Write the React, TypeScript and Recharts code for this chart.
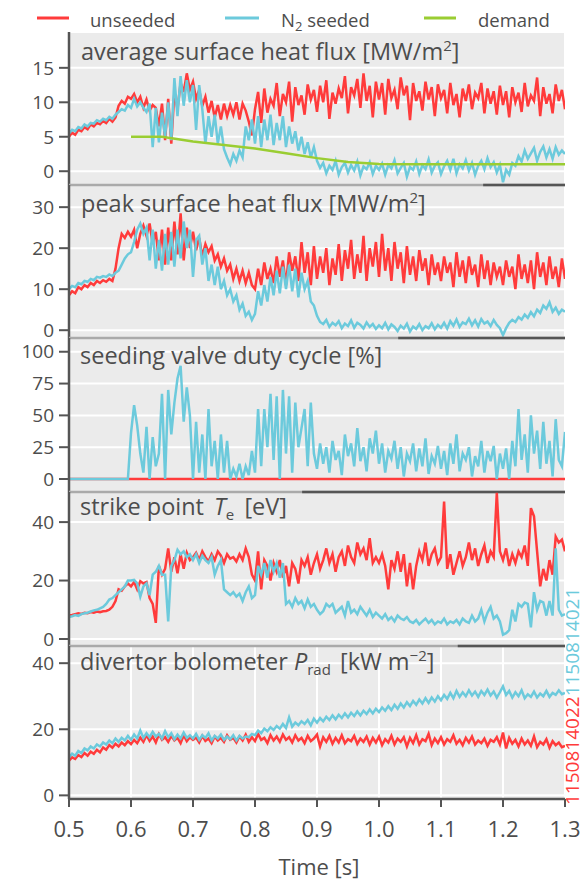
import { CartesianGrid, Line, LineChart, ReferenceLine, XAxis, YAxis } from 'recharts';

// samples every 5 ms from 0.5 s to 1.3 s (161 points per trace)
const avgUnseeded = [
  5.0, 5.6, 5.3, 6.0, 5.8, 6.4, 6.1, 6.8, 6.5, 7.0, 6.8, 7.3, 7.0, 7.6, 7.2, 7.8, 9.5, 10.2, 9.8, 10.8,
  10.5, 11.2, 10, 10.8, 9.2, 10.4, 8.8, 9.6, 9.2, 6.5, 9.8, 4.5, 10.5, 4.0, 11.5, 9, 12.8, 11.5, 14.2, 11.8,
  13, 10.5, 11.8, 9.5, 10.8, 8.5, 10.2, 7.8, 9.6, 7.5, 9.8, 8, 9.6, 8.2, 10, 7.5, 9.8, 8.8, 7.2, 5.2,
  9, 11.5, 7, 12, 8.5, 10.5, 9.5, 12.8, 8, 11.2, 10, 13, 7.2, 12.2, 9.6, 11, 8.2, 12.6, 10.4, 11.8,
  8.6, 12.4, 10, 13.2, 7.6, 11.4, 9.8, 12, 10.6, 13.8, 8.4, 12.2, 11, 13.4, 9.2, 14.2, 10.2, 12.4, 7.8, 13,
  10.4, 12.8, 8.2, 13.4, 10.6, 11.8, 9, 13.6, 11, 12.4, 7.4, 12.8, 10.2, 11.6, 8.8, 13, 10.4, 12.2, 8, 12.6,
  10.6, 11.8, 8.4, 12.8, 9.6, 11.2, 7.8, 12, 10.2, 12.6, 9, 11.4, 10.6, 12.8, 8.4, 12, 9.8, 11.6, 8.2, 12.4,
  9.6, 11.6, 7.8, 12.2, 10, 11.4, 8.6, 12.8, 9.4, 11, 10.2, 13.6, 8, 12.2, 9.8, 11.2, 8.4, 12.6, 10.2, 11.8,
  9,
];
const avgSeeded = [
  5.5, 6.0, 5.8, 6.4, 6.2, 6.8, 6.5, 7.0, 6.9, 7.4, 7.2, 7.6, 7.4, 7.9, 7.6, 8.2, 8.6, 9.0, 8.8, 9.6,
  9.2, 10.5, 9.4, 10, 9.2, 8.6, 9.8, 3.5, 9.2, 4.2, 8.5, 5, 10, 4.5, 13.5, 8, 13.8, 9.5, 13.2, 10,
  12.5, 6, 12.5, 9, 4, 8, 5, 8.2, 4, 6.5, 3.2, 2, 1, 2.5, 1.5, 3, 2, 6.5, 4.5, 7.5,
  4, 8, 3.5, 7.5, 4.5, 8.2, 3.8, 7, 4.5, 8, 3.5, 6.5, 4, 5.8, 3, 5, 2.5, 4.2, 2, 3.5,
  1.5, 0.5, 1.2, -0.3, 0.8, 0.2, 1.5, -0.5, 0.6, 1.2, -0.2, 0.9, 0.1, 1.4, -0.6, 0.7, 0.3, 1.3, -0.4, 0.8,
  0.2, 1.1, -0.5, 0.9, 0.4, 1.6, -0.3, 0.5, 1.2, -0.8, 0.6, 0.2, 1.4, -0.4, 0.9, 0.3, 1.7, -0.2, 0.8, 1.3,
  -0.4, 0.7, 1.5, 0.2, 1.8, -0.3, 1, 0.4, 1.6, 0.1, 1.2, -0.5, 0.8, 1.5, 0.3, 1.9, 0.6, 1.3, -0.2, 0.9,
  -1.6, 0.2, -0.5, 1.2, 0.8, 2.2, 1.4, 3, 1.8, 2.6, 3.4, 1.5, 2.8, 3.6, 2, 3.2, 1.8, 3.5, 2.4, 3,
  2.5,
];
const demandTime = [0.6, 0.65, 0.7, 0.75, 0.8, 0.85, 0.9, 0.95, 1.0, 1.05, 1.1, 1.2, 1.3];
const demandValues = [5, 5, 4.3, 3.8, 3.3, 2.6, 1.9, 1.35, 1.05, 1, 1, 1, 1];

const peakUnseeded = [
  8.5, 9.5, 9, 10.5, 10, 11, 10.5, 11.5, 11, 12, 11.5, 12.2, 11.8, 12.5, 12, 15, 20, 23.5, 22.5, 24,
  22.8, 24.5, 20, 23.5, 25.5, 23, 26, 21, 24, 17, 24.5, 16, 25, 17, 26.5, 18.5, 28.5, 17, 25, 20,
  24, 19.5, 22.5, 18, 21, 19, 20.5, 17, 18.5, 15.5, 17.5, 14.5, 16, 12.5, 15, 12, 14.5, 11.5, 14, 11,
  10, 15, 11, 16.5, 12.5, 15, 11.5, 18, 13, 17, 11, 19, 14.5, 18, 12, 21.5, 14, 19, 11, 20.5,
  12.5, 18, 14, 20, 11, 17.5, 13.5, 21, 12, 19.5, 15, 22, 12.5, 18.5, 14, 23, 12, 20, 15.5, 21.5,
  13, 23.5, 14.5, 20, 12, 21.5, 15, 19, 11.5, 20.5, 13.5, 18, 12, 19.5, 14.5, 17.5, 11, 18.5, 13.5, 16.5,
  12, 18, 14, 16.5, 10.5, 19, 13, 17, 11.5, 18, 13.5, 16, 10.5, 18.5, 12.5, 17, 11, 16.5, 13, 15.5,
  11, 17, 13, 15.5, 10, 18.5, 12.5, 16, 11.5, 17, 10, 19, 13, 16.5, 11, 18, 12.5, 15.5, 10.5, 17.5,
  12.5,
];
const peakSeeded = [
  10, 10.8, 10.5, 11.5, 11.2, 12, 11.8, 12.5, 12.2, 13, 12.8, 13.2, 13, 13.6, 13.2, 14, 14.5, 16, 17.5, 18.5,
  19, 21.5, 24.5, 26, 23.5, 25, 17, 24.5, 15, 22, 14.5, 23.5, 16, 24, 15.5, 24.5, 17.5, 26.5, 20, 24.5,
  13, 22, 23, 16, 20, 12, 16, 11, 15.5, 10, 12, 8.5, 10, 7, 8.5, 5, 6.5, 3.5, 4.5, 2.5,
  4, 9.5, 6, 11, 7, 13, 8.5, 14.5, 9, 15.5, 10, 16, 9.5, 15, 8, 14, 10, 12, 7, 6,
  3.5, 2, 1.5, 2.5, 0.8, 1.8, 1.2, 2.2, 0.5, 1.6, 1, 2.4, 0.6, 1.8, 1.3, 0.4, 1.9, 0.8, 1.5, 0.3,
  1.2, 0.5, 1.8, 0.2, 1.4, 0.8, -0.2, 1.1, 0.4, 1.6, -0.3, 0.9, 0.3, 1.5, 0, 1, 0.5, 1.7, 0.2, 1.3,
  0.6, 1.8, 0.4, 2.2, 1.1, 2.6, 0.8, 1.9, 1.5, 2.8, 1.2, 2.4, 0.9, 2.7, 1.6, 2.1, 1, 2.5, 1.3, 0.5,
  -1.2, 0.5, 1.8, 2.5, 2, 3.2, 2.6, 3.8, 3, 4.4, 3.4, 5, 4.2, 6, 5.2, 6.8, 4.5, 5.5, 4, 5,
  4.5,
];

const dutyUnseededTime = [0.5, 1.3];
const dutyUnseeded = [0, 0];
const dutySeeded = [
  0, 0, 0, 0, 0, 0, 0, 0, 0, 0, 0, 0, 0, 0, 0, 0, 0, 0, 0, 0,
  36, 58, 42, 20, 5, 41, 0, 33, 10, 20, 67, 0, 70, 35, 60, 79, 89, 45, 72, 50,
  0, 45, 5, 35, 0, 55, 10, 30, 0, 35, 5, 30, 0, 8, 2, 12, 0, 10, 3, 22,
  5, 55, 10, 55, 25, 67, 15, 65, 0, 70, 20, 65, 5, 60, 25, 40, 55, 10, 60, 20,
  8, 28, 12, 25, 5, 30, 15, 22, 3, 35, 18, 28, 10, 40, 14, 25, 6, 32, 20, 38,
  12, 28, 5, 22, 16, 30, 8, 25, 2, 20, 14, 28, 6, 24, 10, 32, 4, 18, 12, 26,
  8, 22, 3, 28, 12, 35, 6, 20, 15, 25, 2, 18, 10, 30, 5, 22, 14, 26, 0, 20,
  8, 24, 0, 30, 10, 55, 15, 35, 5, 50, 20, 38, 8, 45, 12, 30, 2, 47, 15, 10,
  37,
];

const teUnseeded = [
  8, 8.2, 8.5, 8.8, 8.6, 9, 8.8, 9.2, 9, 9.4, 9.2, 9.5, 9.6, 10, 11, 13, 17, 16.5, 18, 19,
  18, 19.5, 17, 19.8, 19, 19.5, 14, 12, 5.5, 25, 22, 24, 31, 23, 28, 22.5, 29, 24, 29.5, 27,
  28, 29.5, 27, 30, 28, 26.5, 29, 27, 30, 28.5, 26, 29, 27.5, 28, 26.5, 29, 27, 31, 28, 22,
  20, 30, 17, 27, 25, 20, 26, 23, 27, 21, 25, 18, 26, 24, 19, 27, 25, 28, 22, 26,
  29, 24, 27, 31, 26, 29, 23, 28, 30, 25, 32, 28, 26, 33, 29, 31, 27, 34.5, 26, 28,
  26, 29, 25, 17, 27, 24, 30, 23, 29, 18, 26, 17, 25, 30, 27, 33, 25, 29, 31, 26,
  28, 47, 24, 29, 22, 26, 30, 25, 28, 33, 27, 31, 25, 29, 32, 26, 30, 28, 50, 30,
  27, 31, 25, 29, 26, 30, 28, 32, 25, 44.8, 42, 30, 18, 24, 20, 27, 22, 35, 33, 34,
  30,
];
const teSeeded = [
  7.5, 7.8, 8.2, 7.9, 8.5, 8.8, 9, 9.4, 9.8, 10, 10.5, 11, 12, 13.5, 14, 15, 16, 17, 18, 20,
  20, 20.2, 19, 14.5, 18, 19, 15, 22, 23, 25, 22, 22, 6, 25, 27, 30.5, 29, 30, 28, 29,
  27, 29, 26, 28.5, 27, 26, 28, 22, 25, 27, 17, 16, 15, 16, 14.5, 15.5, 13, 16, 18, 14,
  15, 25, 22, 26, 21, 27, 23, 26, 21, 26, 12, 13, 11, 14, 12, 13, 10.5, 13.5, 11, 12,
  10, 8.5, 9.5, 12, 11, 12, 9, 10, 11, 8, 13, 9, 10, 8.5, 11, 9.5, 8, 10, 7.5, 9,
  8, 7, 8.5, 6.5, 7.5, 6, 8, 7, 6.5, 7.5, 6, 5.5, 6.5, 5, 6, 7, 5.5, 6.5, 5, 6,
  5.5, 7, 5, 6, 5.5, 6.5, 5, 7, 6, 5.5, 8, 6, 7, 10, 6, 9, 11, 7, 8, 6,
  1.5, 2, 3, 10, 6, 12, 11, 12.5, 12, 4, 16, 10, 13, 12.5, 8, 13, 8, 31, 10, 8,
  8.5,
];

const bolUnseeded = [
  10.5, 11.5, 11, 12.2, 11.6, 12.8, 12, 13.2, 12.6, 13.8, 13, 14.5, 13.8, 15.2, 14.4, 15.6, 14.8, 16, 15.2, 16.4,
  15.5, 16.8, 15.8, 17.5, 16.2, 18.2, 16.5, 17.8, 16, 18.5, 16.8, 17.6, 16.2, 18, 16.6, 17.4, 15.8, 18.2, 16.4, 17.6,
  16.8, 17.5, 16, 18, 16.5, 17.2, 15.8, 17.8, 16.6, 17.4, 16.2, 18.2, 16.8, 17.4, 16, 17.8, 16.6, 18.4, 16.2, 17.6,
  16.4, 18.6, 16.8, 17.4, 15.8, 18.2, 16.6, 17.8, 16.2, 18.4, 16.8, 17.6, 16, 18.2, 16.6, 17.4, 15.8, 18, 16.4, 17.2,
  18.4, 14.8, 17.6, 16.2, 18, 15.6, 17.4, 16, 18.2, 15.8, 17, 16.4, 18, 15.6, 17.2, 16.2, 17.8, 15.4, 17.4, 16,
  17.8, 15.2, 17, 16, 18, 15.4, 17.2, 16.2, 17.6, 14.8, 17.4, 15.8, 18.2, 15.4, 17, 16.4, 18.6, 15.2, 17.2, 15.8,
  17.6, 15.4, 17, 16.2, 18.2, 15.6, 16.8, 15.2, 17.4, 16, 17.8, 15.4, 16.6, 15.8, 17.2, 15, 16.8, 16.2, 17.6, 15.4,
  19, 14.2, 17.4, 15.6, 16.8, 14.8, 17.2, 15.4, 16.6, 15, 17.8, 14.6, 16.2, 15.4, 17, 14.4, 16.4, 15.2, 16, 14.6,
  15,
];
const bolSeeded = [
  11.5, 12.6, 12, 13.4, 12.8, 14.2, 13.6, 14.8, 14.2, 15.4, 14.8, 16, 15.4, 16.6, 15.8, 17.2, 16.2, 17.4, 16.6, 18,
  16.8, 18.4, 17.2, 19.6, 17.4, 18.8, 17.6, 19.2, 17.8, 18.6, 17.2, 19.4, 17.6, 18.8, 17, 18.4, 17.2, 19, 17.4, 18.2,
  17.2, 18.6, 16.8, 18.2, 17.4, 18.8, 16.6, 18, 17.2, 18.4, 16.8, 17.8, 17, 18.2, 16.6, 18, 17.2, 17.8, 17.6, 18.6,
  18.2, 19.6, 18.8, 20.2, 19.4, 20.6, 19.8, 21, 20.2, 21.6, 20.4, 23.6, 20.8, 22, 21.2, 22.4, 21.6, 22.8, 21.2, 23.2,
  22, 23.4, 22.4, 23.8, 22.8, 24.2, 23, 24.4, 23.4, 24.8, 23.6, 25, 24, 25.4, 24.2, 25.6, 24.6, 26, 24.8, 26.2,
  25.2, 26.6, 25.6, 27, 25.8, 27.4, 26.2, 27.8, 26.6, 28.2, 27, 28.6, 27.4, 29, 27.8, 29.4, 28, 29.6, 28.4, 30,
  28.8, 30.4, 29.2, 31, 29.4, 31.6, 29.8, 31.2, 30, 31.8, 30.2, 31.4, 29.8, 31.6, 30.4, 32, 30.2, 31.4, 29.6, 31.2,
  33, 30.4, 31.6, 29.6, 31.2, 30, 31.8, 29.4, 30.6, 29.8, 31.4, 29.6, 30.8, 30, 31.6, 29.8, 31, 30.4, 31.8, 30.6,
  31,
];

const xTicks = [0.5, 0.6, 0.7, 0.8, 0.9, 1.0, 1.1, 1.2, 1.3];

const W = 585;
const RED = '#ff3b3b';
const CYAN = '#6ccadc';
const GREEN = '#9acd32';
const BG = '#ebebeb';
const AXIS = '#555555';
const TEXT = '#4d4d4d';
const LIGHT_SPINE = '#aaaaaa';
const FONT = "'Open Sans', sans-serif";

const time = avgUnseeded.map((_, i) => Math.round((0.5 + i * 0.005) * 1000) / 1000);

function rows(a: number[], b: number[]) {
  return time.map((t, i) => ({ t, unseeded: a[i], seeded: b[i] }));
}
function pairs(ts: number[], vs: number[]) {
  return ts.map((t, i) => ({ t, v: vs[i] }));
}

type PanelProps = {
  top: number;
  height: number;
  domain: [number, number];
  ticks: number[];
  data: Array<Record<string, number>>;
  topSplit?: number; // where the top spine turns dark
  last?: boolean;
  extra?: React.ReactNode;
  unseededData?: Array<Record<string, number>>;
  unseededKey?: string;
};

const X_AXIS_H = 85;

function Panel({ top, height, domain, ticks, data, topSplit, last, extra, unseededData, unseededKey }: PanelProps) {
  const padTop = topSplit != null ? 2 : 0;
  const padBottom = last ? 0 : 6;
  return (
    <div style={{ position: 'absolute', left: 0, top: top - padTop, width: W }}>
      <LineChart
        width={W}
        height={height + padTop + padBottom + (last ? X_AXIS_H : 0)}
        data={data}
        margin={{ top: padTop, right: 20, bottom: padBottom, left: 0 }}
      >
        <CartesianGrid fill={BG} fillOpacity={1} stroke="#ffffff" strokeWidth={2} />
        {last ? (
          <XAxis
            type="number"
            dataKey="t"
            domain={[0.5, 1.3]}
            ticks={xTicks}
            interval={0}
            allowDataOverflow
            height={X_AXIS_H}
            tickSize={8}
            tickMargin={14}
            tickFormatter={(v: number) => v.toFixed(1)}
            tick={{ fill: TEXT, fontSize: 22, fontFamily: FONT }}
            tickLine={{ stroke: AXIS, strokeWidth: 2 }}
            axisLine={{ stroke: AXIS, strokeWidth: 2.5 }}
          />
        ) : (
          <XAxis
            type="number"
            dataKey="t"
            domain={[0.5, 1.3]}
            ticks={xTicks}
            allowDataOverflow
            height={0}
            tick={false}
            tickLine={false}
            axisLine={false}
          />
        )}
        <YAxis
          type="number"
          domain={domain}
          ticks={ticks}
          interval={0}
          allowDataOverflow
          width={69}
          tickSize={10}
          tickMargin={5}
          tick={{ fill: TEXT, fontSize: 19, fontFamily: FONT }}
          tickLine={{ stroke: AXIS, strokeWidth: 2 }}
          axisLine={{ stroke: AXIS, strokeWidth: 2.5 }}
        />
        {topSplit != null && <ReferenceLine y={domain[1]} stroke={LIGHT_SPINE} strokeWidth={2.5} />}
        {topSplit != null && (
          <ReferenceLine
            segment={[
              { x: topSplit, y: domain[1] },
              { x: 1.3, y: domain[1] },
            ]}
            stroke={AXIS}
            strokeWidth={2.5}
          />
        )}
        <Line
          data={unseededData}
          dataKey={unseededKey ?? 'unseeded'}
          stroke={RED}
          strokeWidth={2.5}
          dot={false}
          isAnimationActive={false}
        />
        <Line dataKey="seeded" stroke={CYAN} strokeWidth={2.5} dot={false} isAnimationActive={false} />
        {extra}
      </LineChart>
    </div>
  );
}

export default function App() {
  return (
    <div style={{ position: 'absolute', left: 0, top: 0, width: W, height: 884, background: '#fff' }}>
      <Panel
        top={32}
        height={153}
        domain={[-2, 20.2]}
        ticks={[0, 5, 10, 15]}
        data={rows(avgUnseeded, avgSeeded)}
        extra={
          <Line
            data={pairs(demandTime, demandValues)}
            dataKey="v"
            stroke={GREEN}
            strokeWidth={2.5}
            dot={false}
            isAnimationActive={false}
          />
        }
      />
      <Panel
        top={185}
        height={153}
        domain={[-1.9, 35.4]}
        ticks={[0, 10, 20, 30]}
        data={rows(peakUnseeded, peakSeeded)}
        topSplit={1.168}
      />
      <Panel
        top={338}
        height={154}
        domain={[-10.2, 110.8]}
        ticks={[0, 25, 50, 75, 100]}
        data={rows(dutySeeded, dutySeeded)}
        unseededData={pairs(dutyUnseededTime, dutyUnseeded)}
        unseededKey="v"
        topSplit={1.031}
      />
      <Panel
        top={492}
        height={154}
        domain={[-2.4, 50.3]}
        ticks={[0, 20, 40]}
        data={rows(teUnseeded, teSeeded)}
        topSplit={0.876}
      />
      <Panel
        top={646}
        height={153}
        domain={[-1.1, 45.2]}
        ticks={[0, 20, 40]}
        data={rows(bolUnseeded, bolSeeded)}
        topSplit={1.127}
        last
      />
      <svg
        width={W}
        height={884}
        style={{ position: 'absolute', left: 0, top: 0, pointerEvents: 'none' }}
        fontFamily={FONT}
        fill={TEXT}
      >
        <line x1={37} x2={69} y1={18} y2={18} stroke={RED} strokeWidth={3} />
        <text x={90} y={27} fontSize={18.5}>unseeded</text>
        <line x1={225} x2={259} y1={18} y2={18} stroke={CYAN} strokeWidth={3} />
        <text x={281} y={27} fontSize={18.5}>
          N<tspan fontSize={13} dy={4}>2</tspan>
          <tspan dy={-4}> seeded</tspan>
        </text>
        <line x1={424} x2={456} y1={18} y2={18} stroke={GREEN} strokeWidth={3} />
        <text x={478} y={27} fontSize={18.5}>demand</text>

        <text x={81} y={60} fontSize={23.5}>
          average surface heat flux [MW/m<tspan fontSize={15} dy={-9}>2</tspan>
          <tspan dy={9}>]</tspan>
        </text>
        <text x={81} y={212} fontSize={23.5}>
          peak surface heat flux [MW/m<tspan fontSize={15} dy={-9}>2</tspan>
          <tspan dy={9}>]</tspan>
        </text>
        <text x={80} y={364} fontSize={23.5}>seeding valve duty cycle [%]</text>
        <text x={80} y={515} fontSize={23.5}>
          strike point <tspan dx={4} fontStyle="italic">T</tspan>
          <tspan fontSize={15} dy={5}>e</tspan>
          <tspan dy={-5} dx={4}> [eV]</tspan>
        </text>
        <text x={80} y={670} fontSize={23.5}>
          divertor bolometer <tspan fontStyle="italic">P</tspan>
          <tspan fontSize={15} dy={5}>rad</tspan>
          <tspan dy={-5} dx={3}> [kW m</tspan>
          <tspan fontSize={15} dy={-9}>−2</tspan>
          <tspan dy={9}>]</tspan>
        </text>

        <text x={319} y={875} fontSize={22} textAnchor="middle">Time [s]</text>

        <text transform="translate(579,805) rotate(-90)" fontSize={19}>
          <tspan fill={RED}>1150814022</tspan>
          <tspan fill={CYAN}>1150814021</tspan>
        </text>
      </svg>
    </div>
  );
}
